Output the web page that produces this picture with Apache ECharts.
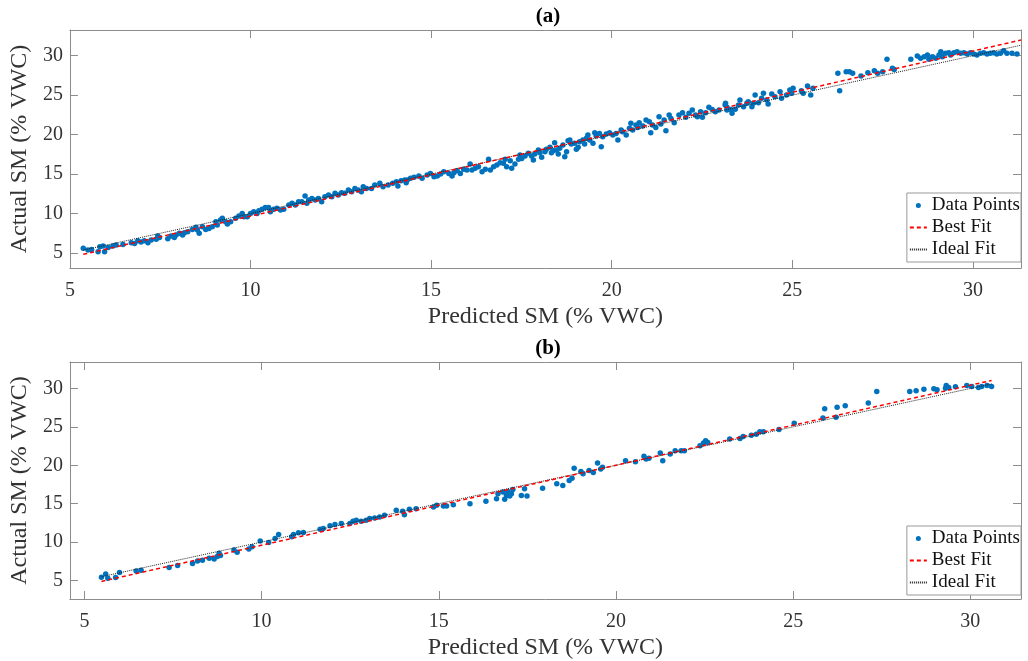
<!DOCTYPE html>
<html><head><meta charset="utf-8">
<script src="https://cdn.jsdelivr.net/npm/echarts@6/dist/echarts.min.js"></script>
<style>html,body{margin:0;padding:0;background:#fff}#c{width:1028px;height:661px}</style>
</head><body><div id="c"></div>
<script>
const tickValues = [5, 10, 15, 20, 25, 30];
const panelTitles = ['(a)', '(b)'];
const seriesNames = ['Data Points', 'Best Fit', 'Ideal Fit'];
const xLabel = 'Predicted SM (% VWC)';
const yLabel = 'Actual SM (% VWC)';

// Panel (a): [predicted, actual]
const pointsA = [
[5.37,5.59],[5.50,5.38],[5.60,5.46],[5.78,5.16],[5.83,5.80],[5.92,5.88],[5.96,5.16],[6.06,5.71],[6.19,5.88],[6.28,6.01],
[6.47,6.09],[6.70,6.30],[6.79,6.22],[6.88,6.56],[6.97,6.39],[7.06,6.56],[7.16,6.30],[7.25,6.64],[7.39,6.73],[7.43,7.15],
[7.48,6.98],[7.71,6.81],[7.80,7.15],[7.89,6.98],[7.94,7.28],[8.03,7.49],[8.12,7.28],[8.17,7.57],[8.26,7.70],[8.39,7.99],
[8.49,8.25],[8.53,7.91],[8.58,7.49],[8.67,8.33],[8.76,7.99],[8.85,8.12],[8.94,8.33],[9.04,8.97],[9.08,8.54],[9.17,9.18],
[9.22,9.39],[9.31,8.97],[9.36,8.67],[9.45,8.97],[9.59,9.39],[9.68,9.68],[9.77,10.02],[9.82,9.60],[9.91,9.60],[10.00,10.02],
[10.09,10.23],[10.18,10.02],[10.23,10.36],[10.32,10.53],[10.41,10.78],[10.50,10.78],[10.55,10.23],[10.64,10.53],[10.73,10.66],[10.83,10.45],
[10.92,10.53],[11.06,11.08],[11.15,11.29],[11.24,11.08],[11.33,11.50],[11.42,11.50],[11.51,12.22],[11.56,11.29],[11.61,11.71],[11.70,11.92],
[11.79,11.71],[11.88,11.92],[11.97,11.50],[12.06,12.14],[12.16,12.35],[12.25,12.14],[12.34,12.56],[12.43,12.35],[12.52,12.64],[12.61,12.56],
[12.71,12.98],[12.80,12.77],[12.89,13.19],[12.98,12.98],[13.07,12.77],[13.12,13.40],[13.21,13.19],[13.35,13.19],[13.44,13.61],[13.58,13.83],
[13.67,13.40],[13.81,13.61],[13.94,13.83],[14.04,14.04],[14.08,13.49],[14.17,14.16],[14.27,14.25],[14.31,13.91],
[14.34,14.25],[14.43,14.46],[14.53,14.59],[14.66,14.76],[14.75,14.46],[14.89,14.88],[14.98,15.09],[15.08,14.67],[15.17,14.76],[15.26,15.01],
[15.35,15.30],[15.49,15.09],[15.58,14.76],[15.63,15.18],[15.72,15.43],[15.81,15.09],[15.90,15.60],[15.99,15.52],[16.08,16.28],[16.13,15.52],
[16.22,15.73],[16.31,15.94],[16.41,15.30],[16.50,15.60],[16.59,16.87],[16.64,15.52],[16.73,15.94],[16.82,16.15],[16.91,16.45],[17.00,16.36],
[17.05,16.87],[17.09,15.94],[17.19,16.70],[17.23,15.73],[17.32,16.28],[17.42,16.87],[17.46,17.42],[17.51,16.99],[17.60,17.29],[17.69,17.63],
[17.78,17.29],[17.83,16.78],[17.87,17.54],[17.97,18.05],[18.01,17.71],[18.06,17.12],[18.15,17.84],[18.19,18.14],[18.29,18.39],[18.33,17.71],
[18.38,17.97],[18.42,18.98],[18.47,18.05],[18.52,17.54],[18.56,18.26],[18.65,18.68],[18.70,17.21],[18.75,17.84],[18.79,19.23],[18.84,19.32],
[18.88,18.81],[18.97,18.90],[19.02,18.14],[19.07,18.39],[19.11,19.11],[19.20,19.32],[19.25,18.81],[19.30,19.53],[19.34,19.95],[19.39,19.32],
[19.48,18.90],[19.53,20.25],[19.57,19.83],[19.66,20.16],[19.71,18.47],[19.75,19.74],[19.85,20.08],[19.94,20.25],[20.03,19.95],[20.12,20.16],
[20.17,19.32],[20.26,20.59],[20.30,20.37],[20.40,19.95],[20.49,20.80],[20.53,21.43],[20.58,20.59],[20.67,21.22],[20.72,20.92],[20.76,21.52],
[20.86,21.09],[20.95,21.85],[21.04,21.64],[21.08,20.25],[21.13,21.22],[21.22,20.92],[21.31,22.28],[21.36,21.35],[21.45,21.85],[21.50,20.50],
[21.59,22.49],[21.64,22.06],[21.73,21.52],[21.86,22.49],[21.96,22.78],[22.05,22.19],[22.14,22.70],[22.23,23.12],[22.32,22.49],[22.37,22.28],
[22.46,22.91],[22.51,22.19],[22.60,22.78],[22.69,23.46],[22.78,23.20],[22.87,22.91],[22.97,23.12],[23.15,23.97],[23.19,23.46],[23.29,23.20],
[23.14,23.75],[23.19,23.12],[23.33,22.70],[23.42,23.21],[23.51,23.75],[23.55,24.39],[23.65,23.54],[23.74,23.97],[23.78,24.18],[23.88,23.54],
[23.92,23.97],[23.97,25.02],[24.06,24.05],[24.15,24.60],[24.20,25.23],[24.29,24.39],[24.33,23.88],[24.43,25.15],[24.52,24.81],[24.66,25.44],
[24.70,24.60],[24.84,25.02],[24.93,25.66],[24.98,25.23],[25.02,25.87],[25.25,25.57],[25.30,25.23],[25.42,26.16],[25.51,25.02],[25.57,25.87],
[26.26,27.77],[26.31,25.57],[26.49,27.98],[26.58,27.98],[26.67,27.77],[26.90,27.43],[27.09,27.85],[27.27,28.11],[27.36,27.77],[27.50,27.98],
[27.62,29.54],[27.77,28.40],[27.82,28.27],[28.28,29.54],[28.46,29.96],[28.55,29.67],[28.65,29.88],[28.74,30.09],[28.78,29.54],[28.88,29.88],
[28.97,29.67],[29.06,30.09],[29.11,30.51],[29.15,29.88],[29.24,30.30],[29.33,30.39],[29.38,30.09],[29.47,30.39],[29.56,30.51],[29.66,30.30],
[29.75,30.39],[29.84,30.22],[29.93,30.39],[30.02,30.22],[30.11,30.09],[30.21,30.30],[30.30,30.39],[30.39,30.22],[30.48,30.30],[30.57,30.39],
[30.66,30.22],[30.76,30.30],[30.85,30.64],[30.94,30.30],[31.08,30.30],[31.22,30.22]
];

// Panel (b): [predicted, actual]
const pointsB = [
[5.48,5.42],[5.60,5.85],[5.66,5.29],[5.88,5.38],[5.99,6.03],[6.46,6.24],[6.60,6.33],[7.39,6.67],[7.63,6.93],[8.05,7.19],
[8.19,7.54],[8.33,7.62],[8.52,7.88],[8.66,7.79],[8.75,8.10],[8.80,8.53],[8.84,8.23],[9.22,8.96],[9.31,8.66],[9.64,9.09],
[9.73,9.39],[9.96,10.12],[10.20,9.95],[10.38,10.47],[10.48,10.99],[10.85,10.68],[10.90,10.99],[11.04,11.20],[11.18,11.24],[11.65,11.68],
[11.74,11.76],[11.93,12.11],[12.07,12.28],[12.25,12.41],[12.49,12.41],[12.58,12.71],[12.67,12.84],[12.81,12.71],[12.95,12.84],[13.05,13.06],
[13.19,13.14],[13.33,13.27],[13.47,13.49],[13.80,14.13],[13.98,14.00],[14.03,13.57],[14.17,14.26],[14.36,14.35],
[14.85,14.57],[14.94,14.78],[15.13,14.69],[15.22,14.69],[15.41,14.87],[15.88,15.00],[16.33,15.30],[16.63,15.64],[16.67,16.29],[16.81,16.51],
[16.86,15.56],[16.91,16.07],[16.95,16.59],[17.00,15.99],[17.05,16.29],[17.09,16.85],[17.33,16.07],[17.42,16.94],[17.49,15.99],[17.93,17.02],
[18.33,17.58],[18.50,17.37],[18.68,18.02],[18.76,18.32],[18.82,19.61],[19.01,19.18],[19.07,18.88],[19.24,19.31],[19.36,19.07],[19.48,20.30],
[19.57,19.52],[19.62,19.74],[20.27,20.60],[20.55,20.47],[20.79,21.16],[20.85,20.82],[20.93,20.90],[21.25,21.59],[21.32,20.60],[21.53,21.47],
[21.67,21.90],[21.84,21.90],[21.93,21.90],[22.37,22.54],[22.47,22.89],[22.53,23.19],[22.59,22.97],[23.21,23.41],[23.50,23.49],[23.59,23.75],
[23.82,23.92],[23.96,24.05],[24.06,24.35],
[24.16,24.35],[24.60,24.65],[25.03,25.47],[25.84,26.16],[25.89,27.37],[26.21,26.25],[26.24,27.54],[26.47,27.75],[27.12,28.10],[27.36,29.61],
[28.29,29.61],[28.47,29.70],[28.69,29.91],[28.97,29.95],[29.06,29.82],[29.30,30.04],[29.32,30.39],[29.39,30.13],[29.58,30.21],[29.90,30.39],
[30.04,30.26],[30.23,30.13],[30.32,30.26],[30.47,30.39],[30.60,30.26]
];

const bestFitA = [[5.37, 4.83], [31.33, 31.99]];
const idealFitA = [[5.37, 5.37], [31.33, 31.33]];
const bestFitB = [[5.48, 4.87], [30.60, 31.05]];
const idealFitB = [[5.48, 5.48], [30.60, 30.60]];

const panels = [
  { pts: pointsA, best: bestFitA, ideal: idealFitA, xr: [5, 31.33], yr: [3.10, 33.26] },
  { pts: pointsB, best: bestFitB, ideal: idealFitB, xr: [4.59, 31.43], yr: [2.58, 33.45] }
];

const FONT = '"Liberation Serif", "Times New Roman", serif';
const AX = '#8c8c8c';
const TXT = '#333333';
const CLEAR = 'rgba(0,0,0,0)';

const grids = [
  { left: 64, top: 30, width: 957, height: 238 },
  { left: 64, top: 362, width: 957, height: 239 }
];

const xAxes = [], yAxes = [], series = [], legends = [], titles = [];
const titleTops = [1, 333];
const legendTops = [193, 526];

panels.forEach((p, i) => {
  const main = (pos, isX) => ({
    type: 'value', gridIndex: i, position: pos, min: isX ? p.xr[0] : p.yr[0], max: isX ? p.xr[1] : p.yr[1],
    axisLine: { show: true, onZero: false, lineStyle: { color: AX, width: 1 } },
    axisTick: { show: true, inside: true, length: 8, customValues: tickValues, lineStyle: { color: AX, width: 1 } },
    splitLine: { show: false },
    axisLabel: { show: pos === 'bottom' || pos === 'left', customValues: tickValues, fontFamily: FONT, fontSize: 20, color: TXT, margin: pos === 'left' ? 7 : 13 },
    name: (pos === 'bottom') ? xLabel : (pos === 'left' ? yLabel : ''),
    nameLocation: 'middle',
    nameGap: pos === 'bottom' ? 37 : 26,
    nameTextStyle: { fontFamily: FONT, fontSize: 24, color: TXT }
  });
  xAxes.push(main('bottom', true), main('top', true));
  yAxes.push(main('left', false), main('right', false));
  const xi = 2 * i, yi = 2 * i;
  series.push({
    name: seriesNames[0], type: 'scatter', xAxisIndex: xi, yAxisIndex: yi, data: p.pts,
    symbol: 'circle', symbolSize: 5.5, itemStyle: { color: '#0072BD', opacity: 1 }, silent: true, z: 2
  });
  series.push({
    name: seriesNames[1], type: 'line', xAxisIndex: xi, yAxisIndex: yi, data: p.best,
    symbol: 'none', lineStyle: { color: '#ff0000', type: [4, 3], width: 1.5 }, itemStyle: { color: CLEAR }, silent: true, z: 4
  });
  series.push({
    name: seriesNames[2], type: 'line', xAxisIndex: xi, yAxisIndex: yi, data: p.ideal,
    symbol: 'none', lineStyle: { color: '#222222', type: [1, 1], width: 1 }, itemStyle: { color: CLEAR }, silent: true, z: 3
  });
  legends.push({
    orient: 'vertical', right: 7, top: legendTops[i], itemWidth: 17, itemHeight: 5, itemGap: 3,
    padding: [3, 1, 3, 2], borderColor: '#999', borderWidth: 1, backgroundColor: '#fff',
    selectedMode: false, textStyle: { fontFamily: FONT, fontSize: 19, color: '#111' },
    data: [
      { name: seriesNames[0] },
      { name: seriesNames[1], itemStyle: { opacity: 0 } },
      { name: seriesNames[2], itemStyle: { opacity: 0 } }
    ]
  });
  titles.push({
    text: panelTitles[i], left: 543, top: titleTops[i], textAlign: 'center',
    textStyle: { fontFamily: FONT, fontSize: 21, fontWeight: 'bold', color: '#000' }
  });
});

const chart = echarts.init(document.getElementById('c'), null, { renderer: 'canvas' });
chart.setOption({
  animation: false,
  backgroundColor: '#fff',
  title: titles,
  grid: grids,
  xAxis: xAxes,
  yAxis: yAxes,
  legend: legends,
  series: series
});
</script>
</body></html>
